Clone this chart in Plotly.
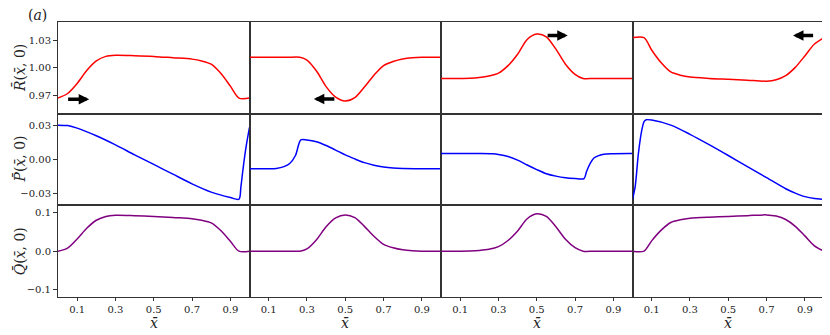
import plotly.graph_objects as go
from plotly.subplots import make_subplots

# column 1 (wave moving right, kink near x=0.945)
x_r1 = [0, 0.05, 0.1, 0.15, 0.2, 0.25, 0.3, 0.4, 0.5, 0.6, 0.7, 0.75, 0.8, 0.85, 0.9, 0.945, 1.0]
r1 = [0.967, 0.972, 0.983, 0.997, 1.0075, 1.0125, 1.0137, 1.0133, 1.0125, 1.011, 1.0095, 1.0075, 1.004, 0.994, 0.980, 0.967, 0.967]
x_p1 = [0, 0.05, 0.1, 0.2, 0.3, 0.4, 0.5, 0.6, 0.7, 0.8, 0.9, 0.945, 0.955, 0.965, 0.975, 0.985, 1.0]
p1 = [0.030, 0.0296, 0.0274, 0.0207, 0.0128, 0.0041, -0.0043, -0.0128, -0.0213, -0.0285, -0.0332, -0.0347, -0.024, -0.010, 0.003, 0.014, 0.028]
q1 = [0, 0.008, 0.032, 0.060, 0.081, 0.091, 0.094, 0.093, 0.091, 0.088, 0.085, 0.081, 0.074, 0.054, 0.026, 0, 0]

# column 2 (wave moving left, kink near x=0.263)
x_r2 = [0, 0.1, 0.2, 0.263, 0.3, 0.35, 0.4, 0.45, 0.5, 0.55, 0.6, 0.65, 0.7, 0.75, 0.8, 0.85, 0.9, 1.0]
r2 = [1.0115, 1.0115, 1.0115, 1.0115, 1.0085, 0.9965, 0.9795, 0.968, 0.9638, 0.9675, 0.979, 0.992, 1.0025, 1.007, 1.0097, 1.011, 1.0115, 1.0115]
q2 = [0, 0, 0, 0, 0.006, 0.030, 0.064, 0.087, 0.095, 0.088, 0.065, 0.039, 0.018, 0.009, 0.0036, 0.001, 0, 0]
x_p2 = [0, 0.1, 0.14, 0.18, 0.21, 0.24, 0.268, 0.3, 0.35, 0.4, 0.45, 0.5, 0.55, 0.6, 0.65, 0.7, 0.75, 0.8, 0.9, 1.0]
p2 = [-0.0081, -0.0081, -0.0078, -0.0062, -0.0035, 0.0035, 0.0172, 0.0171, 0.0155, 0.0122, 0.0082, 0.0040, 0.0005, -0.0027, -0.0050, -0.0066, -0.0075, -0.0079, -0.0081, -0.0081]

# column 3 (wave moving right, kink near x=0.742)
x_r3 = [0, 0.1, 0.15, 0.2, 0.25, 0.3, 0.35, 0.4, 0.45, 0.5, 0.55, 0.6, 0.65, 0.7, 0.742, 0.8, 1.0]
r3 = [0.9884, 0.9884, 0.9886, 0.9894, 0.991, 0.9942, 1.0024, 1.0149, 1.0309, 1.0368, 1.0339, 1.0204, 1.004, 0.9929, 0.9884, 0.9884, 0.9884]
q3 = [0, 0, 0.0005, 0.002, 0.005, 0.012, 0.028, 0.053, 0.085, 0.098, 0.091, 0.064, 0.031, 0.009, 0, 0, 0]
x_p3 = [0, 0.1, 0.2, 0.27, 0.3, 0.35, 0.4, 0.45, 0.5, 0.55, 0.6, 0.65, 0.7, 0.747, 0.76, 0.78, 0.8, 0.85, 0.9, 1.0]
p3 = [0.0052, 0.0052, 0.0052, 0.0050, 0.0044, 0.0027, -0.0005, -0.0048, -0.0088, -0.0124, -0.0145, -0.0159, -0.0165, -0.0166, -0.0105, -0.0032, 0.0015, 0.0046, 0.0051, 0.0052]

# column 4 (wave moving left, kink near x=0.06)
x_r4 = [0, 0.06, 0.1, 0.15, 0.2, 0.25, 0.3, 0.4, 0.5, 0.6, 0.7, 0.75, 0.8, 0.85, 0.9, 0.95, 1.0]
r4 = [1.033, 1.033, 1.0195, 1.0055, 0.9955, 0.992, 0.990, 0.9885, 0.9875, 0.9865, 0.9855, 0.987, 0.9915, 1.0005, 1.013, 1.026, 1.033]
q4 = [0, 0, 0.027, 0.055, 0.075, 0.082, 0.086, 0.089, 0.091, 0.093, 0.095, 0.092, 0.083, 0.065, 0.040, 0.014, 0]
x_p4 = [0, 0.014, 0.031, 0.049, 0.061, 0.072, 0.1, 0.2, 0.3, 0.4, 0.5, 0.6, 0.7, 0.8, 0.85, 0.9, 0.95, 1.0]
p4 = [-0.0347, -0.0236, 0.0055, 0.026, 0.0332, 0.0347, 0.0344, 0.030, 0.022, 0.013, 0.0035, -0.0063, -0.0158, -0.0255, -0.0293, -0.0324, -0.0341, -0.0347]

# propagation arrows: (tail x, tip x, y) per column
arrows = [(0.045, 0.163, 0.9657), (0.451, 0.336, 0.966), (0.549, 0.662, 1.0353), (0.951, 0.838, 1.0353)]

x_ticks = [0.1, 0.3, 0.5, 0.7, 0.9]
r_ticks = [0.97, 1.00, 1.03]
p_ticks = [0.03, 0.0, -0.03]
q_ticks = [0.1, 0.0, -0.1]

FONT = 'DejaVu Serif'
cols = [
    (x_r1, r1, x_p1, p1, q1),
    (x_r2, r2, x_p2, p2, q2),
    (x_r3, r3, x_p3, p3, q3),
    (x_r4, r4, x_p4, p4, q4),
]

fig = make_subplots(rows=3, cols=4, horizontal_spacing=0, vertical_spacing=0)

for c, (xr, r, xp, p, q) in enumerate(cols, start=1):
    fig.add_trace(go.Scatter(x=xr, y=r, mode='lines', line=dict(color='#ff0000', width=1.5, shape='spline', smoothing=0.8)), row=1, col=c)
    fig.add_trace(go.Scatter(x=xp, y=p, mode='lines', line=dict(color='#0000ff', width=1.5, shape='spline', smoothing=0.8)), row=2, col=c)
    fig.add_trace(go.Scatter(x=xr, y=q, mode='lines', line=dict(color='#800080', width=1.5, shape='spline', smoothing=0.8)), row=3, col=c)

axis_common = dict(showline=True, mirror=True, linecolor='#333', linewidth=1,
                   showgrid=False, zeroline=False, automargin=False,
                   tickfont=dict(family=FONT, size=10, color='#222'))
fig.update_xaxes(range=[0, 1], showticklabels=False, ticks='', **axis_common)
fig.update_yaxes(showticklabels=False, ticks='', **axis_common)
fig.update_xaxes(row=3, tickvals=x_ticks, ticktext=['%.1f' % v for v in x_ticks],
                 showticklabels=True, ticks='outside', ticklen=3, tickcolor='#333')

def fmt(v, d):
    s = f'{abs(v):.{d}f}'
    return ('\u2212' + s) if v < 0 else s

for row, rng, tv, d in [(1, [0.95, 1.05], r_ticks, 2), (2, [-0.04, 0.04], p_ticks, 2), (3, [-0.12, 0.12], q_ticks, 1)]:
    fig.update_yaxes(range=rng, row=row)
    fig.update_yaxes(row=row, col=1, tickvals=tv, ticktext=[fmt(v, d) for v in tv],
                     showticklabels=True, ticks='outside', ticklen=4, tickcolor='#333')

annos = []
for i, (xt, xh, ya) in enumerate(arrows):
    ax_id = '' if i == 0 else str(i + 1)
    annos.append(dict(x=xh, y=ya, ax=xt, ay=ya, xref='x' + ax_id, yref='y' + ax_id,
                      axref='x' + ax_id, ayref='y' + ax_id, text='', showarrow=True,
                      arrowhead=2, arrowsize=0.6, arrowwidth=3.5, arrowcolor='black', standoff=0))

labels = [('<i>R\u0304</i>(<i>x\u0304</i>, 0)', 0.833),
          ('<i>P\u0304</i>(<i>x\u0304</i>, 0)', 0.5),
          ('<i>Q\u0304</i>(<i>x\u0304</i>, 0)', 0.166)]
for txt, yy in labels:
    annos.append(dict(text=txt, x=-0.0496, y=yy, xref='paper', yref='paper', showarrow=False,
                      textangle=-90, xanchor='center', yanchor='middle',
                      font=dict(family=FONT, size=14, color='#222')))
for xx in [0.125, 0.375, 0.625, 0.875]:
    annos.append(dict(text='<i>x\u0304</i>', x=xx, y=-0.0945, xref='paper', yref='paper', showarrow=False,
                      xanchor='center', yanchor='middle', font=dict(family=FONT, size=14, color='#222')))
annos.append(dict(text='(<i>a</i>)', x=-0.0274, y=1.0255, xref='paper', yref='paper', showarrow=False,
                  xanchor='center', yanchor='middle', font=dict(family=FONT, size=14, color='#222')))

# the page body keeps its default 8px margin, so the figure is 8px smaller each way
fig.update_layout(
    width=822, height=327,
    margin=dict(l=50, r=6, t=14, b=38),
    paper_bgcolor='white', plot_bgcolor='white',
    showlegend=False,
    font=dict(family=FONT),
    annotations=annos,
)

fig.write_html("out.html")
